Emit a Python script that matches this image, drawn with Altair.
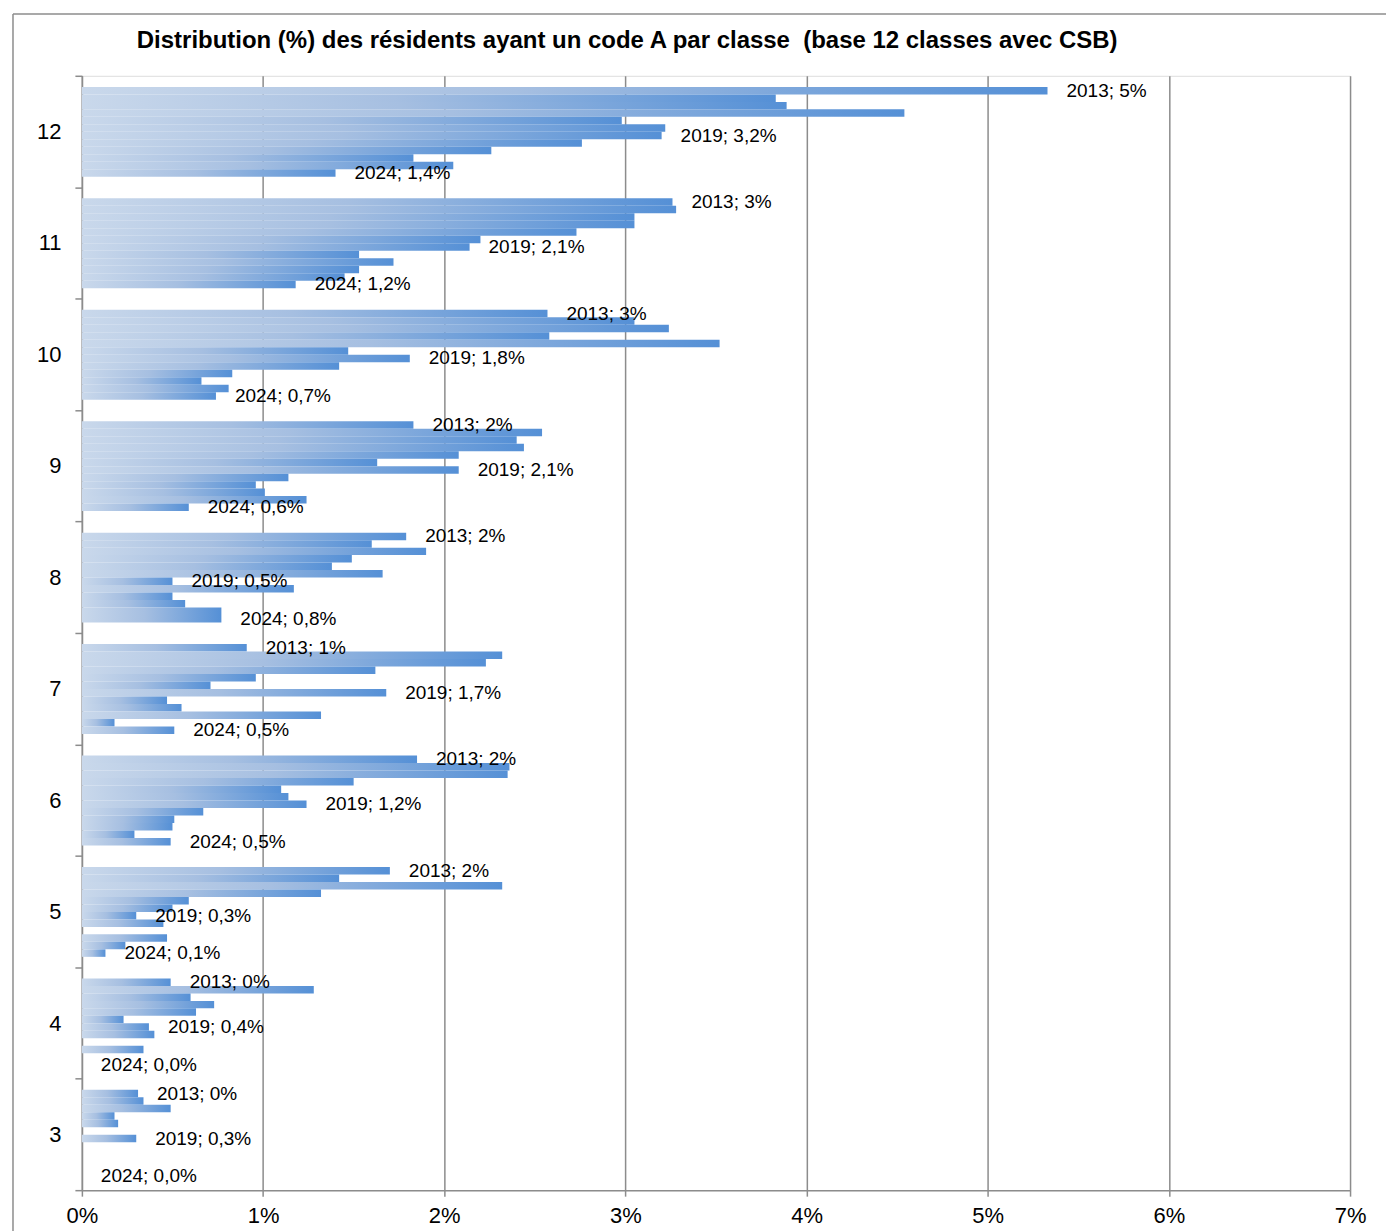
import altair as alt
import pandas as pd

FONT = "Liberation Sans"

years = [str(y) for y in range(2013, 2025)]
classes = ["12", "11", "10", "9", "8", "7", "6", "5", "4", "3"]

c12 = [5.33, 3.83, 3.89, 4.54, 2.98, 3.22, 3.20, 2.76, 2.26, 1.83, 2.05, 1.40]
c11 = [3.26, 3.28, 3.05, 3.05, 2.73, 2.20, 2.14, 1.53, 1.72, 1.53, 1.45, 1.18]
c10 = [2.57, 3.05, 3.24, 2.58, 3.52, 1.47, 1.81, 1.42, 0.83, 0.66, 0.81, 0.74]
c9 = [1.83, 2.54, 2.40, 2.44, 2.08, 1.63, 2.08, 1.14, 0.96, 1.01, 1.24, 0.59]
c8 = [1.79, 1.60, 1.90, 1.49, 1.38, 1.66, 0.50, 1.17, 0.50, 0.57, 0.77, 0.77]
c7 = [0.91, 2.32, 2.23, 1.62, 0.96, 0.71, 1.68, 0.47, 0.55, 1.32, 0.18, 0.51]
c6 = [1.85, 2.36, 2.35, 1.50, 1.10, 1.14, 1.24, 0.67, 0.51, 0.50, 0.29, 0.49]
c5 = [1.70, 1.42, 2.32, 1.32, 0.59, 0.50, 0.30, 0.45, 0.00, 0.47, 0.24, 0.13]
c4 = [0.49, 1.28, 0.60, 0.73, 0.63, 0.23, 0.37, 0.40, 0.00, 0.34, 0.00, 0.00]
c3 = [0.31, 0.34, 0.49, 0.18, 0.20, 0.00, 0.30, 0.00, 0.00, 0.00, 0.00, 0.00]

series = {"12": c12, "11": c11, "10": c10, "9": c9, "8": c8,
          "7": c7, "6": c6, "5": c5, "4": c4, "3": c3}

labelled_years = ["2013", "2019", "2024"]
x_ticks = [0, 1, 2, 3, 4, 5, 6, 7]

title_text = "Distribution (%) des résidents ayant un code A par classe \u00a0(base 12 classes avec CSB)"

rows = []
for c in classes:
    for y, v in zip(years, series[c]):
        if y == "2013":
            lab = f"{y}; {v:.0f}%"
        else:
            lab = f"{y}; {v:.1f}%".replace(".", ",")
        rows.append({"classe": c, "annee": y, "valeur": v, "label": lab})
df = pd.DataFrame(rows)
df_lab = df[df["annee"].isin(labelled_years)]

W, H = 1270, 1116
GRAY = "#8c8c8c"

y_enc = alt.Y(
    "classe:N",
    scale=alt.Scale(domain=classes, paddingInner=0, paddingOuter=0),
    axis=alt.Axis(
        title=None, tickBand="extent", tickSize=7, tickColor=GRAY, tickWidth=1.5,
        domainColor=GRAY, domainWidth=1.5, labelFontSize=22, labelFont=FONT,
        labelColor="#000000", labelPadding=14, grid=False,
    ),
)
# empty gap slots before and after the 12 years inside each class band
offset_domain = ["gap_top"] + years + ["gap_bottom"]
yoff_enc = alt.YOffset(
    "annee:N",
    scale=alt.Scale(domain=offset_domain, paddingInner=0, paddingOuter=0.44, align=0.55),
)
x_scale = alt.Scale(domain=[0, 7], nice=False, zero=True)

bars = alt.Chart(df).mark_bar(
    color=alt.Gradient(
        gradient="linear",
        stops=[
            alt.GradientStop(color="#c9d8eb", offset=0),
            alt.GradientStop(color="#a6bfe1", offset=0.45),
            alt.GradientStop(color="#5590d6", offset=1),
        ],
        x1=0, x2=1, y1=0, y2=0,
    ),
    strokeWidth=0,
).encode(
    x=alt.X(
        "valeur:Q", scale=x_scale,
        axis=alt.Axis(
            title=None, values=x_ticks, labelExpr="datum.value + '%'",
            labelFlush=False,
            grid=True, gridColor=GRAY, gridWidth=1.5,
            domainColor=GRAY, domainWidth=1.5, tickColor=GRAY, tickWidth=1.5,
            tickSize=6, labelFontSize=22, labelFont=FONT, labelColor="#000000",
            labelPadding=9,
        ),
    ),
    y=y_enc,
    yOffset=yoff_enc,
)

labels = alt.Chart(df_lab).mark_text(
    align="left", baseline="middle", dx=19, fontSize=19, font=FONT, color="#000000"
).encode(
    x=alt.X("valeur:Q", scale=x_scale),
    y=y_enc,
    yOffset=yoff_enc,
    text="label:N",
)

one = pd.DataFrame({"k": [1]})
frame_top = alt.Chart(one).mark_rule(color=GRAY, strokeWidth=1.5).encode(
    x=alt.value(-69), x2=alt.value(W + 40), y=alt.value(-62)
)
frame_left = alt.Chart(one).mark_rule(color=GRAY, strokeWidth=1.5).encode(
    x=alt.value(-69), y=alt.value(-62), y2=alt.value(H + 60)
)
title = alt.Chart(one).mark_text(
    align="left", baseline="alphabetic", fontSize=24, fontWeight="bold",
    font=FONT, color="#000000", text=title_text,
).encode(x=alt.value(55), y=alt.value(-28))

chart = alt.layer(bars, labels, frame_top, frame_left, title).properties(
    width=W, height=H,
    autosize=alt.AutoSizeParams(type="none"),
    padding={"left": 74, "top": 67, "right": 36, "bottom": 40},
).configure_view(stroke=None).configure(background="white")

chart.save("out.html", embed_options={"renderer": "svg", "actions": False})
